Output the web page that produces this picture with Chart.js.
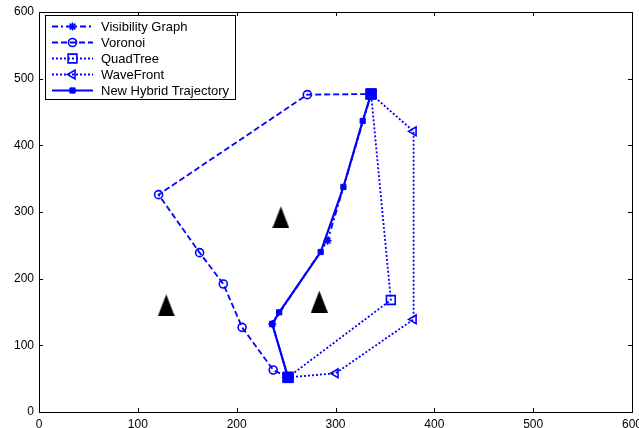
<!DOCTYPE html>
<html>
<head>
<meta charset="utf-8">
<script src="https://cdn.jsdelivr.net/npm/chart.js@4/dist/chart.umd.min.js"></script>
<style>
  html, body { margin: 0; padding: 0; background: #fff; }
  #wrap { width: 639px; height: 428px; }
</style>
</head>
<body>
<div id="wrap"><canvas id="c" width="639" height="428"></canvas></div>
<script>
// ---- data (x, y) ----
const xTicks = [0, 100, 200, 300, 400, 500, 600];
const yTicks = [0, 100, 200, 300, 400, 500, 600];
const seriesNames = ['Visibility Graph', 'Voronoi', 'QuadTree', 'WaveFront', 'New Hybrid Trajectory'];
const visibilityGraph = [[252, 52], [236, 132], [292, 257], [336, 477]];
const voronoi = [[252, 52], [237, 63], [205.5, 127], [186.5, 192], [162.5, 239], [121, 326], [271.5, 476], [336, 477]];
const quadTree = [[252, 52], [356, 168], [336, 477]];
const waveFront = [[252, 52], [300, 58], [379, 139], [379, 421], [336, 477]];
const hybrid = [[252, 52], [236, 132], [243, 149.5], [285, 240], [308, 337.5], [327.5, 436.5], [336, 477]];
const obstacles = [[128.7, 160], [244.7, 292], [283.6, 165.5]];

const BLUE = '#0000ff';
const FONT = '"Liberation Sans", Arial, Helvetica, sans-serif';
const toPts = a => a.map(p => ({ x: p[0], y: p[1] }));

// obstacle marker: tall black triangle
const tri = document.createElement('canvas');
tri.width = 17; tri.height = 22;
(function () {
  const g = tri.getContext('2d');
  g.fillStyle = '#000';
  g.beginPath();
  g.moveTo(8.5, 0); g.lineTo(17, 22); g.lineTo(0, 22); g.closePath(); g.fill();
})();

const datasets = [
  { label: seriesNames[0], data: toPts(visibilityGraph), borderDash: [6, 3, 2, 3], borderWidth: 1.8,
    pointStyle: 'star', pointRadius: 4, pointBorderWidth: 1.6, backgroundColor: BLUE, order: 4 },
  { label: seriesNames[1], data: toPts(voronoi), borderDash: [6, 3], borderWidth: 1.8,
    pointStyle: 'circle', pointRadius: 4, pointBorderWidth: 1.6, backgroundColor: 'rgba(0,0,0,0)', order: 3 },
  { label: seriesNames[2], data: toPts(quadTree), borderDash: [2, 2], borderWidth: 1.8,
    pointStyle: 'rect', pointRadius: 6.2, pointBorderWidth: 1.6, backgroundColor: 'rgba(0,0,0,0)', order: 2 },
  { label: seriesNames[3], data: toPts(waveFront), borderDash: [2, 2], borderWidth: 1.8,
    pointStyle: 'triangle', pointRotation: -90, pointRadius: 5, pointBorderWidth: 1.6, backgroundColor: 'rgba(0,0,0,0)', order: 1 },
  { label: seriesNames[4], data: toPts(hybrid), borderDash: [], borderWidth: 2.2,
    pointStyle: 'rect', pointRadius: hybrid.map((p, i) => (i === 0 || i === hybrid.length - 1) ? 7.5 : 3.7),
    pointBorderWidth: 1, backgroundColor: BLUE, order: 0 },
].map(d => Object.assign({ showLine: true, borderColor: BLUE, pointBorderColor: BLUE, pointBackgroundColor: d.backgroundColor, fill: false, tension: 0 }, d));

datasets.push({ label: 'obstacles', data: toPts(obstacles), showLine: false, pointStyle: tri, pointRadius: 10, order: 10 });

const frame = {
  id: 'frame',
  afterDraw(chart) {
    const { ctx, chartArea: a, scales } = chart;
    ctx.save();
    ctx.strokeStyle = '#000';
    ctx.lineWidth = 1;
    ctx.strokeRect(Math.round(a.left) + 0.5, Math.round(a.top) + 0.5, Math.round(a.right - a.left), Math.round(a.bottom - a.top));
    const L = 4;
    ctx.beginPath();
    xTicks.forEach(v => {
      const px = Math.round(scales.x.getPixelForValue(v)) + 0.5;
      ctx.moveTo(px, a.bottom); ctx.lineTo(px, a.bottom - L);
      ctx.moveTo(px, a.top); ctx.lineTo(px, a.top + L);
    });
    yTicks.forEach(v => {
      const py = Math.round(scales.y.getPixelForValue(v)) + 0.5;
      ctx.moveTo(a.left, py); ctx.lineTo(a.left + L, py);
      ctx.moveTo(a.right, py); ctx.lineTo(a.right - L, py);
    });
    ctx.stroke();

    // legend
    const bx = 45, by = 15, bw = 190, bh = 84;
    ctx.fillStyle = '#fff';
    ctx.fillRect(bx, by, bw, bh);
    ctx.strokeRect(bx + 0.5, by + 0.5, bw, bh);
    ctx.font = '13px ' + FONT;
    ctx.textBaseline = 'middle';
    const rows = [25.7, 41.5, 57.8, 73.6, 90.2];
    chart.data.datasets.slice(0, 5).forEach((d, i) => {
      const y = Math.round(rows[i]) + 0.5;
      ctx.save();
      ctx.strokeStyle = d.borderColor;
      ctx.lineWidth = d.borderWidth;
      ctx.setLineDash(d.borderDash || []);
      ctx.beginPath(); ctx.moveTo(52, y); ctx.lineTo(93, y); ctx.stroke();
      ctx.setLineDash([]);
      ctx.strokeStyle = d.pointBorderColor;
      ctx.fillStyle = d.pointBackgroundColor;
      ctx.lineWidth = d.pointBorderWidth;
      const r = Array.isArray(d.pointRadius) ? d.pointRadius[1] : d.pointRadius;
      Chart.helpers.drawPoint(ctx, { pointStyle: d.pointStyle, rotation: d.pointRotation || 0, radius: r, borderWidth: d.pointBorderWidth }, 72.5, y);
      ctx.restore();
      ctx.fillStyle = '#000';
      ctx.fillText(d.label, 101, y + 0.5);
    });
    ctx.restore();
  }
};

new Chart(document.getElementById('c'), {
  type: 'scatter',
  data: { datasets },
  options: {
    responsive: false,
    animation: false,
    events: [],
    layout: { autoPadding: false, padding: { left: 0, right: 7, top: 12, bottom: 0 } },
    plugins: { legend: { display: false }, tooltip: { enabled: false } },
    scales: {
      x: {
        type: 'linear', min: 0, max: 600,
        afterBuildTicks: s => { s.ticks = xTicks.map(v => ({ value: v })); },
        afterFit: s => { s.height = 16; s.paddingLeft = 0; s.paddingRight = 0; },
        grid: { display: false, drawTicks: false },
        border: { display: false },
        ticks: { padding: 5, color: '#000', maxRotation: 0, autoSkip: false,
                 font: { family: FONT, size: 12 } }
      },
      y: {
        type: 'linear', min: 0, max: 600,
        afterBuildTicks: s => { s.ticks = yTicks.map(v => ({ value: v })); },
        afterFit: s => { s.width = 39; s.paddingTop = 0; s.paddingBottom = 0; },
        grid: { display: false, drawTicks: false },
        border: { display: false },
        ticks: { padding: 5, color: '#000', autoSkip: false,
                 font: { family: FONT, size: 12 } }
      }
    }
  },
  plugins: [frame]
});
</script>
</body>
</html>
